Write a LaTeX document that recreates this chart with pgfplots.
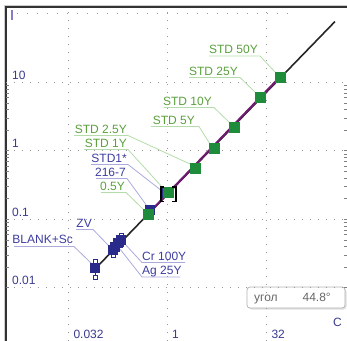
\documentclass[border=0pt]{standalone}
\usepackage{pgfplots}
\pgfplotsset{compat=1.18}
\usepackage{fontspec}
\setmainfont{Liberation Sans}
\definecolor{tickblue}{HTML}{3A3A90}
\definecolor{sqgreen}{HTML}{1E8C3A}
\definecolor{txtgreen}{HTML}{5AA03C}
\definecolor{ldgreen}{HTML}{B4DCAA}
\definecolor{sqblue}{HTML}{2A2A8A}
\definecolor{txtblue}{HTML}{3C3CA0}
\definecolor{ldblue}{HTML}{AAAADC}
\definecolor{purp}{HTML}{6E1A6E}
\definecolor{markI}{HTML}{8A7AC8}
\newcommand\lbl{\fontsize{12bp}{14bp}\selectfont}
\pgfdeclareplotmark{bracket}{%
  \pgfsetlinewidth{1.8bp}%
  \pgfpathmoveto{\pgfpoint{-3.5bp}{5bp}}%
  \pgfpathlineto{\pgfpoint{-7bp}{5bp}}%
  \pgfpathlineto{\pgfpoint{-7bp}{-9.5bp}}%
  \pgfpathlineto{\pgfpoint{-3.5bp}{-9.5bp}}%
  \pgfpathmoveto{\pgfpoint{4.5bp}{5bp}}%
  \pgfpathlineto{\pgfpoint{8bp}{5bp}}%
  \pgfpathlineto{\pgfpoint{8bp}{-9.5bp}}%
  \pgfpathlineto{\pgfpoint{4.5bp}{-9.5bp}}%
  \pgfusepathqstroke}
\begin{document}
\begin{tikzpicture}
\begin{scope}[x=1bp,y=-1bp]
  % frame
  \draw[line width=1bp, black!20] (4,341) -- (4,5) -- (347,5);
  \draw[line width=2bp, black!80] (6,341) -- (6,7) -- (347,7);
  \fill[markI] (11,10) rectangle (13,20);
  \draw[gray!80, dash pattern=on 1bp off 9bp, line width=0.8bp] (17,13) -- (292,13);
  % green annotations
  \draw[ldgreen, line width=0.8bp] (209,56) -- (260,56) -- (276,73);
  \node[anchor=base east, inner sep=0, text=txtgreen, font=\lbl] at (258,53) {STD 50Y};
  \draw[ldgreen, line width=0.8bp] (189,77.5) -- (240,77.5) -- (256,93);
  \node[anchor=base east, inner sep=0, text=txtgreen, font=\lbl] at (238,75) {STD 25Y};
  \draw[ldgreen, line width=0.8bp] (164,107.5) -- (214,107.5) -- (230,123);
  \node[anchor=base east, inner sep=0, text=txtgreen, font=\lbl] at (212,105) {STD 10Y};
  \draw[ldgreen, line width=0.8bp] (151,126.5) -- (199,126.5) -- (210,144);
  \node[anchor=base east, inner sep=0, text=txtgreen, font=\lbl] at (195,124) {STD 5Y};
  \draw[ldgreen, line width=0.8bp] (74,135.5) -- (128,135.5) -- (190,164);
  \node[anchor=base east, inner sep=0, text=txtgreen, font=\lbl] at (127,133) {STD 2.5Y};
  \draw[ldgreen, line width=0.8bp] (84,149.5) -- (128,149.5) -- (163,188);
  \node[anchor=base east, inner sep=0, text=txtgreen, font=\lbl] at (127,147) {STD 1Y};
  \draw[ldblue, line width=0.8bp] (91,164.5) -- (128,164.5) -- (162,191);
  \node[anchor=base east, inner sep=0, text=txtblue, font=\lbl] at (127,162) {STD1*};
  \draw[ldblue, line width=0.8bp] (96,178.5) -- (127,178.5) -- (147,206);
  \node[anchor=base east, inner sep=0, text=txtblue, font=\lbl] at (126,176) {216-7};
  \draw[ldgreen, line width=0.8bp] (101,192.5) -- (126,192.5) -- (144,210);
  \node[anchor=base east, inner sep=0, text=txtgreen, font=\lbl] at (125,190) {0.5Y};
  \draw[ldblue, line width=0.8bp] (76,229.5) -- (93,229.5) -- (110,247);
  \node[anchor=base east, inner sep=0, text=txtblue, font=\lbl] at (92,227) {ZV};
  \draw[ldblue, line width=0.8bp] (14,246.5) -- (74,246.5) -- (92,264);
  \node[anchor=base east, inner sep=0, text=txtblue, font=\lbl] at (73,243) {BLANK+Sc};
  \draw[ldblue, line width=0.8bp] (185,262.5) -- (142,262.5) -- (124,243);
  \node[anchor=base west, inner sep=0, text=txtblue, font=\lbl] at (142,260) {Cr 100Y};
  \draw[ldblue, line width=0.8bp] (180,277) -- (142,277) -- (120,249);
  \node[anchor=base west, inner sep=0, text=txtblue, font=\lbl] at (142,274) {Ag 25Y};
  % angle box
  \fill[black!12, rounded corners=3bp] (248.5,288.5) rectangle (346.5,309.5);
  \draw[black!30, fill=white, rounded corners=3bp, line width=0.7bp] (247,287) rectangle (345,308);
  \node[anchor=base west, inner sep=0, text=black!60, font=\lbl] at (254,301) {угол};
  \node[anchor=base east, inner sep=0, text=black!60, font=\lbl] at (331,301) {44.8°};
  \node[anchor=base west, inner sep=0, text=tickblue, font=\lbl] at (333,326) {C};
\end{scope}
\begin{axis}[
  at={(6bp,-341bp)}, anchor=south west,
  scale only axis, width=341bp, height=334bp,
  xmode=log, ymode=log,
  xmin=0.003639, xmax=533.3, ymin=0.001656, ymax=124.5,
  axis line style={draw=none},
  major tick length=0pt,
  xtick={0.032,1,32}, xticklabels={0.032,1,32},
  ytick={0.01,0.1,1,10}, yticklabels={0.01,0.1,1,10},
  grid=major,
  major grid style={gray!80, dash pattern=on 1bp off 7bp, line width=0.8bp},
  xticklabel style={anchor=base west, xshift=5bp, yshift=3bp, inner sep=0pt, text=tickblue, font=\lbl},
  yticklabel style={anchor=base west, xshift=6bp, yshift=3bp, inner sep=0pt, text=tickblue, font=\lbl},
  clip=false,
]
% regression line and fitted segment
\addplot[black!85, line width=1.6bp] coordinates {(0.0757,0.01742) (350.8,76.4)};
\addplot[purp, line width=2.2bp] coordinates {(0.515,0.1183) (51.52,11.83)};
% blue points with error bars
\addplot[only marks, mark=square*, mark size=4.5bp, color=sqblue,
  error bars/.cd, y dir=both, y explicit,
  error bar style={sqblue, line width=0.8bp},
  error mark=square*, error mark options={draw=sqblue, fill=white, mark size=2bp, line width=0.7bp}]
  table[x=x, y=y, y error plus=ep, y error minus=em] {
  x       y        ep       em
  0.0811  0.01928  0.0051   0.00506
  0.152   0.03524  0.004    0.00545
  0.2009  0.04932  0.00902  0.006
};
% blue cluster squares on top
\addplot[only marks, mark=square*, mark size=4.5bp, color=sqblue] table {
  x       y
  0.152   0.03524
  0.163   0.03899
  0.1811  0.04467
  0.2009  0.04932
  0.552   0.1352
  0.966   0.2399
};
% green standards
\addplot[only marks, mark=square*, mark size=5bp, color=sqgreen] table {
  x       y
  0.515   0.1183
  1.035   0.2477
  2.655   0.556
  5.152   1.086
  10.35   2.203
  25.64   6.039
  51.52   11.83
};
% selection bracket
\addplot[only marks, mark=bracket, color=black] coordinates {(1.035,0.2477)};
\end{axis}
\pgfresetboundingbox
\useasboundingbox (0,0) rectangle (347bp,-341bp);
\end{tikzpicture}
\end{document}
